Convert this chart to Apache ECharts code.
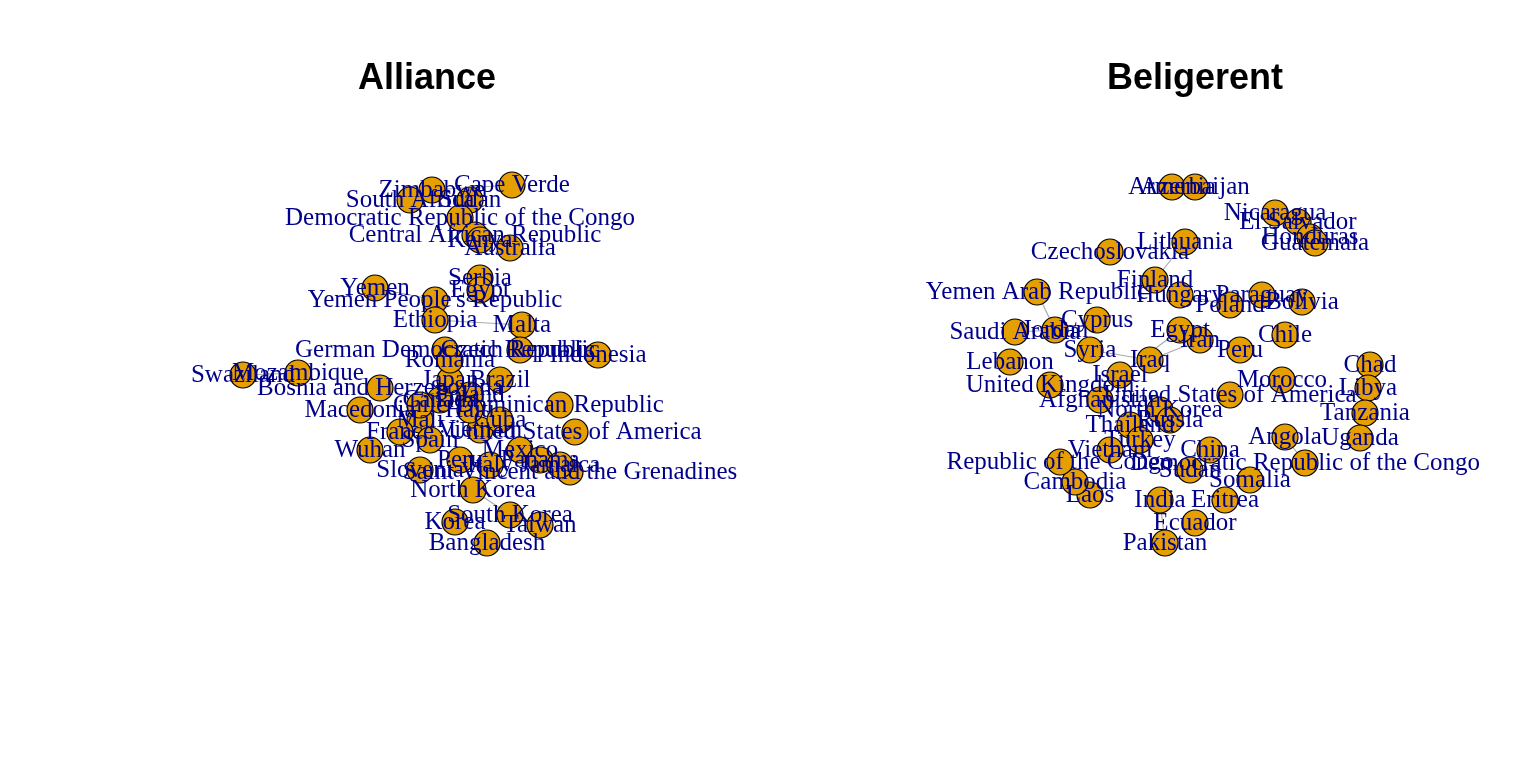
<!DOCTYPE html>
<html><head><meta charset="utf-8">
<script src="https://cdn.jsdelivr.net/npm/echarts@6/dist/echarts.min.js"></script>
<style>html,body{margin:0;padding:0;background:#fff}#c{width:1536px;height:768px}</style>
</head><body><div id="c"></div>
<script>
// Node layout coordinates (network layout units) and names
const allianceNames = ["Cape Verde","Zimbabwe","South Africa","Sudan","Democratic Republic of the Congo","Central African Republic","Kenya","Australia","Yemen","Serbia","Yemen People's Republic","Ethiopia","Malta","German Democratic Republic","Czech Republic","Indonesia","Swaziland","Mozambique","Bosnia and Herzegovina","Macedonia","Mali","France","Wuhan","United States of America","Dominican Republic","Saint Vincent and the Grenadines","Slovenia","North Korea","South Korea","Korea","Taiwan","Bangladesh","Vietnam","Poland","Canada","Brazil","Peru","Spain","Italy","Japan","Mexico","Panama","Cuba","Haiti","Jamaica","Chile","Romania","Egypt"];
const allianceX = [512,432,410,470,460,475,480,510,375,480,435,435,522,445,520,598,243,298,380,360,420,400,370,575,560,570,420,473,510,455,540,487,480,470,440,500,460,430,490,450,520,540,500,470,560,420,450,480];
const allianceY = [185,190,200,200,218,235,240,248,288,278,300,320,325,350,350,355,375,373,388,410,420,432,450,432,405,472,470,490,515,522,525,543,430,395,400,380,460,440,465,380,450,460,420,410,465,405,360,290];
const beligNames = ["Armenia","Azerbaijan","Nicaragua","El Salvador","Honduras","Guatemala","Lithuania","Czechoslovakia","Finland","Yemen Arab Republic","Paraguay","Bolivia","Hungary","Poland","Chile","Cyprus","Saudi Arabia","Jordan","Lebanon","Chad","Libya","Morocco","Tanzania","Uganda","Angola","United Kingdom","United States of America","Democratic Republic of the Congo","Somalia","Eritrea","India","Laos","Cambodia","Ecuador","Pakistan","Vietnam","Thailand","North Korea","Republic of the Congo","Afghanistan","Syria","Iraq","Iran","Israel","Egypt","Peru","Russia","Turkey","China","Sudan"];
const beligX = [1172,1195,1275,1298,1310,1315,1185,1110,1155,1037,1262,1302,1180,1230,1285,1097,1015,1055,1010,1370,1368,1282,1365,1360,1285,1050,1230,1305,1250,1225,1160,1090,1075,1195,1165,1110,1130,1160,1060,1100,1090,1150,1200,1120,1180,1240,1170,1140,1210,1190];
const beligY = [187,187,213,222,237,243,242,252,280,292,295,302,295,305,335,320,332,330,362,365,388,380,413,438,437,385,395,463,480,500,500,495,482,523,543,450,425,410,462,400,350,360,340,375,330,350,420,440,450,470];
const beligEdges = [[0,1],[2,3],[3,4],[4,5],[6,8],[9,17],[12,13],[10,11],[16,17],[19,20],[22,23],[24,27],[30,34],[31,32],[35,36],[40,41],[41,42],[43,44]];
const allianceEdges = [[27,28],[28,30],[16,17],[8,10],[0,1],[3,4],[12,11]];

function nodes(names,xs,ys){return names.map((n,i)=>({name:n,value:[xs[i],ys[i]]}));}
function edges(e){return e.map(p=>({source:p[0],target:p[1]}));}
const common = {
  type:'graph', layout:'none', coordinateSystem:'cartesian2d', symbolSize:26,
  itemStyle:{color:'#E69F00',borderColor:'#000',borderWidth:1.2},
  label:{show:true,position:'inside',color:'#00008B',fontFamily:'Liberation Serif',fontSize:25},
  lineStyle:{color:'#aaa',width:1.2,opacity:1}, emphasis:{disabled:true}, z:2
};
const chart = echarts.init(document.getElementById('c'));
chart.setOption({
  animation:false,
  title:[
    {text:'Alliance',left:422,top:56,textAlign:'center',textStyle:{fontFamily:'Liberation Sans',fontWeight:'bold',fontSize:36,color:'#000'}},
    {text:'Beligerent',left:1190,top:56,textAlign:'center',textStyle:{fontFamily:'Liberation Sans',fontWeight:'bold',fontSize:36,color:'#000'}}
  ],
  grid:{left:0,right:0,top:0,bottom:0},
  xAxis:{type:'value',min:0,max:1536,show:false},
  yAxis:{type:'value',min:0,max:768,inverse:true,show:false},
  series:[
    Object.assign({},common,{data:nodes(allianceNames,allianceX,allianceY),links:edges(allianceEdges)}),
    Object.assign({},common,{data:nodes(beligNames,beligX,beligY),links:edges(beligEdges)})
  ]
});
</script></body></html>
